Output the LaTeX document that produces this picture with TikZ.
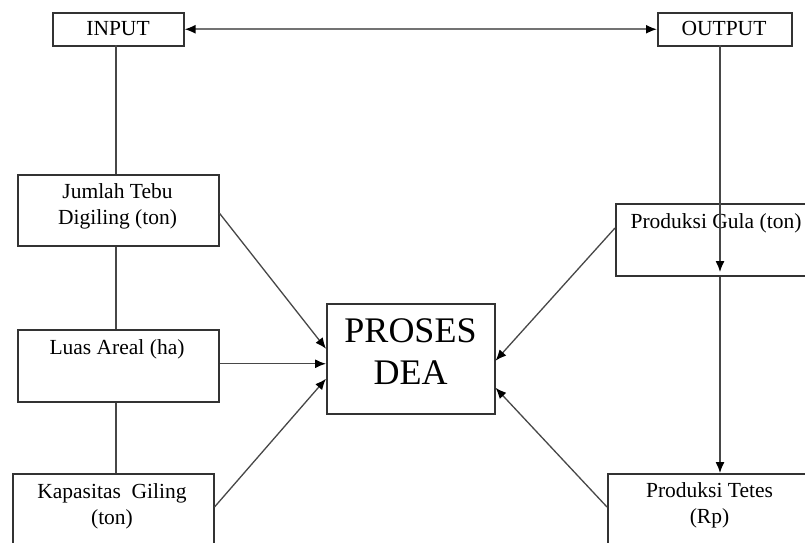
\documentclass[tikz,border=0pt]{standalone}
\usepackage{fontspec}
\setmainfont{Liberation Serif}
\usetikzlibrary{arrows.meta}
\begin{document}
\begin{tikzpicture}[x=1pt,y=-1pt,
  boxstyle/.style={draw=black!80,line width=1.5pt,rectangle,inner sep=0pt,anchor=north west},
  lbl/.style={font=\fontsize{21.5}{26.5}\selectfont,align=center,inner sep=0pt,text=black},
  conn/.style={draw=black!72,line width=1.3pt},
  tip/.tip={Latex[length=11pt,width=9pt,color=black]},
  arr/.style={conn,-tip}]
\useasboundingbox (0,0) rectangle (805,542);
\clip (0,0) rectangle (805,542);
\fill[white] (0,0) rectangle (805,542);
% boxes
\node[boxstyle,minimum width=131pt,minimum height=33pt] (input) at (52,12) {};
\node[boxstyle,minimum width=134pt,minimum height=33pt] (output) at (657,12) {};
\node[boxstyle,minimum width=201pt,minimum height=71pt] (jumlah) at (17,174) {};
\node[boxstyle,minimum width=201pt,minimum height=72pt] (luas) at (17,329) {};
\node[boxstyle,minimum width=201pt,minimum height=100pt] (kap) at (12,473) {};
\node[boxstyle,minimum width=168pt,minimum height=110pt] (proses) at (326,303) {};
\node[boxstyle,minimum width=220pt,minimum height=72pt] (gula) at (615,203) {};
\node[boxstyle,minimum width=230pt,minimum height=100pt] (tetes) at (607,473) {};
% texts
\node[lbl] (tin) at (118,28.5) {INPUT};
\node[lbl] (tout) at (724,28.5) {OUTPUT};
\node[lbl,anchor=north] (tjum) at (117.5,183) {Jumlah Tebu\\Digiling (ton)};
\node[lbl,anchor=north] (tluas) at (117,339) {Luas Areal (ha)};
\node[lbl,anchor=north] (tkap) at (112,483) {Kapasitas\ \ Giling\\(ton)};
\node[lbl,anchor=north] (tgula) at (716,213) {Produksi Gula (ton)};
\node[lbl,anchor=north] (ttet) at (709.5,482) {Produksi Tetes\\(Rp)};
\node[font=\fontsize{36}{42}\selectfont,align=center,inner sep=0pt] (tpro) at (410.5,352) {PROSES\\DEA};
% coordinates
\coordinate (ix) at (116,45);
\coordinate (ox) at (720,45);
\coordinate (gtip) at (720,272);
% top double arrow
\draw[conn,line width=1.8pt,draw=black!55,tip-tip] (input.east) -- (output.west);
% input vertical chain
\draw[conn] (ix) -- (ix |- jumlah.north);
\draw[conn] (ix |- jumlah.south) -- (ix |- luas.north);
\draw[conn] (ix |- luas.south) -- (ix |- kap.north);
% output vertical chain
\draw[arr] (ox) -- (gtip);
\draw[arr] (ox |- gula.south) -- (ox |- tetes.north);
% arrows into proses
\draw[arr] ([yshift=-3pt]jumlah.east) -- ([yshift=10pt]proses.west);
\draw[arr] ([yshift=2pt]luas.east) -- ([yshift=-5pt]proses.west);
\draw[arr] ([yshift=-34pt]kap.north east) -- ([yshift=-20pt]proses.west);
\draw[arr] ([yshift=-25pt]gula.north west) -- ([yshift=-2pt]proses.east);
\draw[arr] ([yshift=-34pt]tetes.north west) -- ([yshift=-29pt]proses.east);
\end{tikzpicture}
\end{document}
